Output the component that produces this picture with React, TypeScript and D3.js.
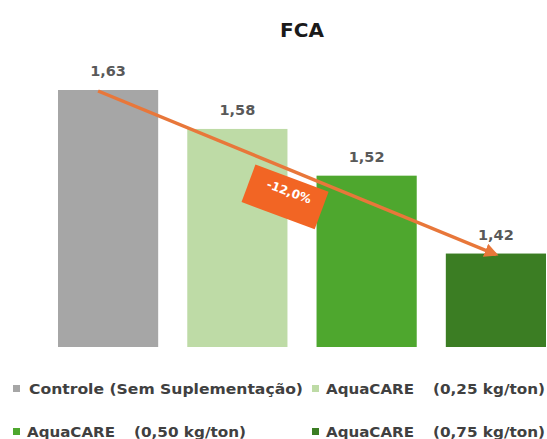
import React from "react";
import * as d3 from "d3";

// FCA por tratamento
const categories = [
  "Controle (Sem Suplementação)",
  "AquaCARE (0,25 kg/ton)",
  "AquaCARE (0,50 kg/ton)",
  "AquaCARE (0,75 kg/ton)",
];
const values = [1.63, 1.58, 1.52, 1.42];
const valueLabels = ["1,63", "1,58", "1,52", "1,42"];
const colors = ["#A6A6A6", "#BEDBA6", "#4EA72E", "#3B7D23"];
const legendNames = ["AquaCARE", "AquaCARE", "AquaCARE"];
const legendDoses = ["(0,25 kg/ton)", "(0,50 kg/ton)", "(0,75 kg/ton)"];
const reductionLabel = "-12,0%";

const W = 547;
const H = 439;
const FONT = "'DejaVu Sans', sans-serif";

export default function App() {
  const x = d3.scaleBand<string>().domain(categories).range([58, 546]).paddingInner(0.225).paddingOuter(0);
  const y = d3.scaleLinear().domain([1.3, 1.63]).range([347, 90]);
  const bw = x.bandwidth();

  // arrow from first bar top to last bar top
  const x0 = (x(categories[0]) ?? 0) + bw / 2 - 10;
  const y0 = y(values[0]) + 1;
  const x1 = (x(categories[3]) ?? 0) + bw / 2;
  const y1 = y(values[3]) + 1;
  const angle = (Math.atan2(y1 - y0, x1 - x0) * 180) / Math.PI;
  const line = d3.line()([
    [x0, y0],
    [x1, y1],
  ]);

  // label box sits under the middle of the arrow
  const t = 0.47;
  const bx = x0 + (x1 - x0) * t;
  const by = y0 + (y1 - y0) * t + 29;

  const legendItems = [
    { x: 13, y: 389, color: colors[0], name: categories[0], dose: "" },
    { x: 312, y: 389, color: colors[1], name: legendNames[0], dose: legendDoses[0] },
    { x: 13, y: 432, color: colors[2], name: legendNames[1], dose: legendDoses[1] },
    { x: 312, y: 432, color: colors[3], name: legendNames[2], dose: legendDoses[2] },
  ];

  return (
    <svg width={W} height={H} style={{ position: "absolute", left: 0, top: 0, background: "#fff" }}>
      <defs>
        <marker id="arrowHead" viewBox="0 0 10 10" refX="8" refY="5" markerWidth="4" markerHeight="4" orient="auto">
          <path d="M0,0 L10,5 L0,10 z" fill="#E8773A" />
        </marker>
      </defs>
      <text x={302} y={37} textAnchor="middle" fontFamily={FONT} fontWeight="bold" fontSize={20} fill="#1a1a1a">
        FCA
      </text>
      {categories.map((c, i) => (
        <rect key={c} x={x(c)} y={y(values[i])} width={bw} height={y(1.3) - y(values[i])} fill={colors[i]} />
      ))}
      {categories.map((c, i) => (
        <text
          key={c + "l"}
          x={(x(c) ?? 0) + bw / 2}
          y={y(values[i]) - 14}
          textAnchor="middle"
          fontFamily={FONT}
          fontWeight="bold"
          fontSize={14.5}
          fill="#595959"
        >
          {valueLabels[i]}
        </text>
      ))}
      <g transform={`translate(${bx},${by}) rotate(${angle - 2})`}>
        <rect x={-39} y={-20} width={78} height={40} fill="#F26524" />
        <text x={2} y={-2} textAnchor="middle" fontFamily={FONT} fontWeight="bold" fontSize={12} fill="#fff">
          {reductionLabel}
        </text>
      </g>
      <path d={line ?? ""} stroke="#E8773A" strokeWidth={3.5} fill="none" markerEnd="url(#arrowHead)" />
      {legendItems.map((d, i) => (
        <g key={i}>
          <rect x={d.x} y={d.y - 4} width={7} height={7} fill={d.color} />
          {d.dose === "" ? (
            <text x={d.x + 16} y={d.y + 5} fontFamily={FONT} fontWeight="bold" fontSize={14} fill="#404040" textLength={274} lengthAdjust="spacingAndGlyphs">
              {d.name}
            </text>
          ) : (
            <>
              <text x={d.x + 14} y={d.y + 5} fontFamily={FONT} fontWeight="bold" fontSize={14} fill="#404040" textLength={88} lengthAdjust="spacingAndGlyphs">
                {d.name}
              </text>
              <text x={d.x + 121} y={d.y + 5} fontFamily={FONT} fontWeight="bold" fontSize={14} fill="#404040" textLength={112} lengthAdjust="spacingAndGlyphs">
                {d.dose}
              </text>
            </>
          )}
        </g>
      ))}
    </svg>
  );
}
